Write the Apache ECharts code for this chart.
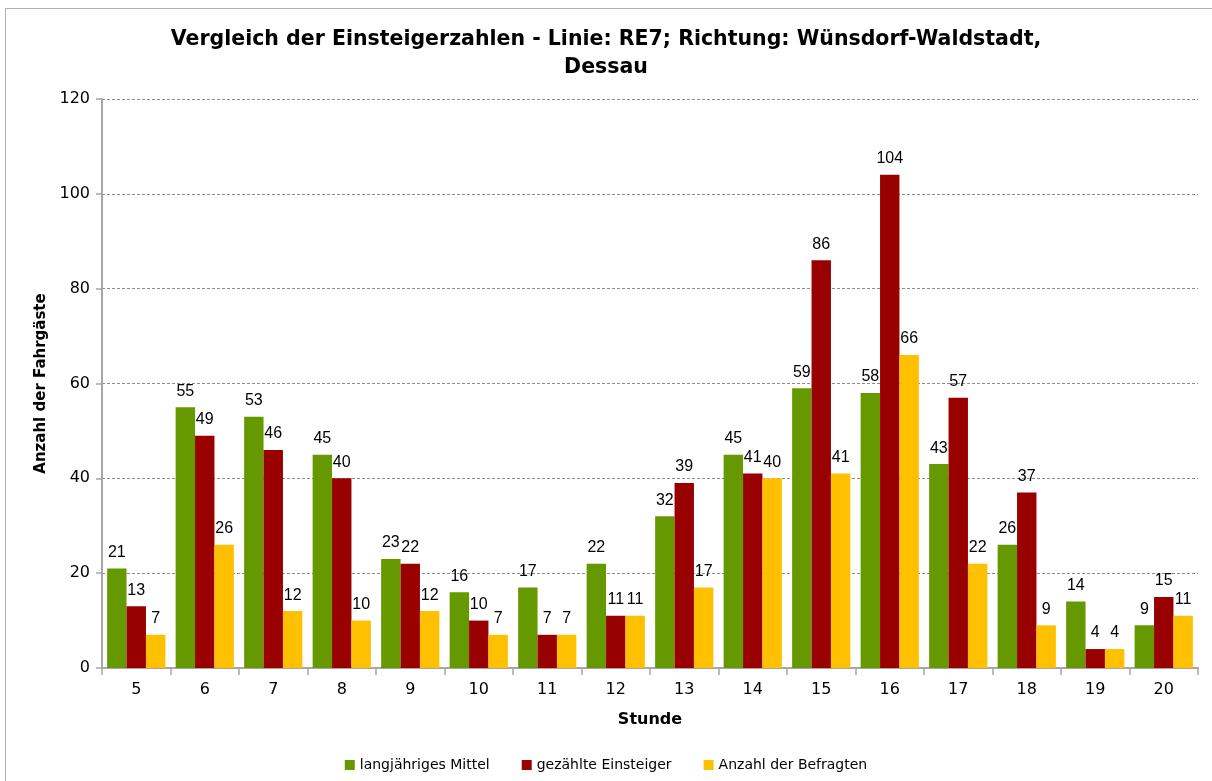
<!DOCTYPE html>
<html>
<head>
<meta charset="utf-8">
<script src="https://cdn.jsdelivr.net/npm/echarts@6/dist/echarts.min.js"></script>
<style>
  html, body { margin: 0; padding: 0; background: #fff; }
  #frame { position: absolute; left: 5px; top: 8px; width: 1220px; height: 800px; border: 1px solid #b0b0b0; box-sizing: border-box; }
  #chart { width: 1212px; height: 781px; }
</style>
</head>
<body>
<div id="frame"></div>
<div id="chart"></div>
<script>
// Stunden
const stunden = ['5', '6', '7', '8', '9', '10', '11', '12', '13', '14', '15', '16', '17', '18', '19', '20'];
// langjähriges Mittel
const mittel = [21, 55, 53, 45, 23, 16, 17, 22, 32, 45, 59, 58, 43, 26, 14, 9];
// gezählte Einsteiger
const gezaehlt = [13, 49, 46, 40, 22, 10, 7, 11, 39, 41, 86, 104, 57, 37, 4, 15];
// Anzahl der Befragten
const befragt = [7, 26, 12, 10, 12, 7, 7, 11, 17, 40, 41, 66, 22, 9, 4, 11];

const fontFam = 'DejaVu Sans, Verdana, sans-serif';

const chart = echarts.init(document.getElementById('chart'));

// Werte über den Balken (schmalere Schrift, damit "11 11" nicht zusammenläuft)
const labelCfg = {
  show: true,
  position: 'top',
  color: '#000',
  fontSize: 16,
  fontFamily: 'Liberation Sans, Arial, sans-serif',
  distance: 8
};

const option = {
  animation: false,
  title: {
    text: 'Vergleich der Einsteigerzahlen - Linie: RE7; Richtung: Wünsdorf-Waldstadt,\nDessau',
    left: 'center',
    top: 21,
    textStyle: {
      fontSize: 20.5,
      fontWeight: 'bold',
      fontFamily: fontFam,
      color: '#000',
      lineHeight: 28
    }
  },
  legend: {
    bottom: 4,
    left: 'center',
    itemWidth: 10,
    itemHeight: 10,
    itemGap: 32,
    icon: 'rect',
    textStyle: { fontSize: 14, fontFamily: fontFam, color: '#000' },
    data: ['langjähriges Mittel', 'gezählte Einsteiger', 'Anzahl der Befragten']
  },
  grid: {
    left: 102,
    right: 14,
    top: 99,
    bottom: 113
  },
  xAxis: {
    type: 'category',
    data: stunden,
    name: 'Stunde',
    nameLocation: 'middle',
    nameGap: 44,
    nameTextStyle: { fontSize: 16, fontWeight: 'bold', fontFamily: fontFam, color: '#000' },
    axisLine: { lineStyle: { color: '#a6a6a6', width: 2 } },
    axisTick: { show: true, length: 7, lineStyle: { color: '#a6a6a6', width: 1.5 } },
    axisLabel: { fontSize: 16, fontFamily: fontFam, color: '#000', margin: 14 }
  },
  yAxis: {
    type: 'value',
    min: 0,
    max: 120,
    interval: 20,
    name: 'Anzahl der Fahrgäste',
    nameLocation: 'middle',
    nameGap: 50,
    nameTextStyle: { fontSize: 15, fontWeight: 'bold', fontFamily: fontFam, color: '#000' },
    axisLine: { show: true, lineStyle: { color: '#a6a6a6', width: 2 } },
    axisTick: { show: true, length: 6, lineStyle: { color: '#a6a6a6', width: 1.5 } },
    axisLabel: { fontSize: 16, fontFamily: fontFam, color: '#000', margin: 12 },
    splitLine: { lineStyle: { color: '#8c8c8c', type: [3, 2], width: 1 } }
  },
  series: [
    {
      name: 'langjähriges Mittel',
      type: 'bar',
      data: mittel,
      barGap: '0%',
      barCategoryGap: '15%',
      itemStyle: { color: '#669900' },
      label: labelCfg
    },
    {
      name: 'gezählte Einsteiger',
      type: 'bar',
      data: gezaehlt,
      barGap: '0%',
      barCategoryGap: '15%',
      itemStyle: { color: '#990000' },
      label: labelCfg
    },
    {
      name: 'Anzahl der Befragten',
      type: 'bar',
      data: befragt,
      barGap: '0%',
      barCategoryGap: '15%',
      itemStyle: { color: '#ffc000' },
      label: labelCfg
    }
  ]
};

chart.setOption(option);
</script>
</body>
</html>
